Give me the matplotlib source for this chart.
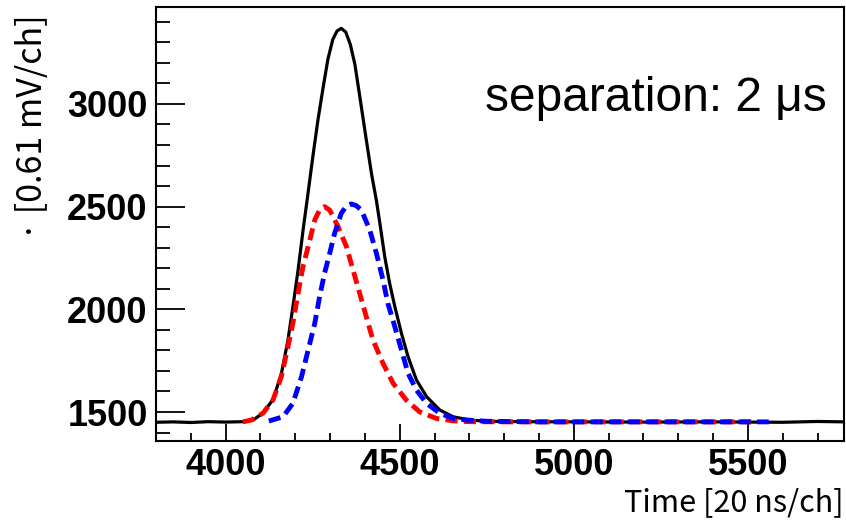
import matplotlib
matplotlib.use('Agg')
import matplotlib.pyplot as plt
from matplotlib.ticker import MultipleLocator

# --- data (time in ch, amplitude in ch) ---
red_t = [4049, 4074, 4107, 4136, 4160, 4179, 4193, 4208, 4222, 4237, 4256, 4270,
         4284, 4299, 4323, 4347, 4366, 4385, 4404, 4423, 4452, 4481, 4519, 4557,
         4605, 4653, 4700, 4800, 5000, 5200, 5400, 5510]
red_v = [1452, 1461, 1494, 1558, 1672, 1818, 1932, 2078, 2207, 2305, 2435, 2485,
         2500, 2483, 2402, 2305, 2191, 2078, 1964, 1851, 1737, 1640, 1558, 1501,
         1469, 1457, 1453, 1452, 1452, 1452, 1452, 1452]

blue_t = [4124, 4165, 4193, 4218, 4237, 4256, 4270, 4284, 4299, 4313, 4332, 4346,
          4361, 4375, 4390, 4414, 4433, 4452, 4466, 4486, 4505, 4524, 4548, 4577,
          4615, 4653, 4692, 4750, 4900, 5100, 5300, 5560]
blue_v = [1456, 1477, 1542, 1672, 1802, 1932, 2062, 2175, 2273, 2370, 2467, 2502,
          2513, 2505, 2483, 2386, 2273, 2143, 2029, 1915, 1802, 1688, 1607, 1542,
          1494, 1469, 1461, 1455, 1452, 1452, 1452, 1452]

black_t = [3800, 3850, 3900, 3950, 4000, 4050, 4080, 4107, 4136, 4160, 4179, 4193,
           4208, 4222, 4237, 4251, 4265, 4280, 4294, 4308, 4320, 4332, 4345, 4358,
           4371, 4385, 4404, 4419, 4433, 4443, 4457, 4471, 4486, 4505, 4524, 4548,
           4577, 4615, 4653, 4701, 4750, 4850, 5000, 5200, 5400, 5600, 5700, 5780]
black_v = [1450, 1452, 1449, 1453, 1451, 1453, 1462, 1495, 1560, 1685, 1850, 2010,
           2190, 2380, 2570, 2750, 2920, 3080, 3220, 3315, 3355, 3368, 3350, 3290,
           3195, 3040, 2825, 2660, 2530, 2419, 2256, 2127, 2013, 1883, 1769, 1656,
           1575, 1510, 1477, 1461, 1455, 1453, 1452, 1451, 1452, 1450, 1454, 1452]

x_major = [4000, 4500, 5000, 5500]
y_major = [1500, 2000, 2500, 3000]

fig = plt.figure(figsize=(8.46, 5.21), dpi=100, facecolor='white')
ax = fig.add_axes([0.1844, 0.1536, 0.8132, 0.833])

ax.plot(black_t, black_v, color='black', lw=2.3, zorder=2)
ax.plot(red_t, red_v, color='#ff0000', lw=3.5, dashes=(2.5, 1.3), zorder=3)
ax.plot(blue_t, blue_v, color='#0000ff', lw=3.5, dashes=(2.5, 1.3), zorder=4)

ax.set_xlim(3800, 5776)
ax.set_ylim(1359, 3472)

tick_font = dict(family=['Liberation Sans', 'DejaVu Sans'], weight='bold', size=26)
ax.set_xticks(x_major)
ax.set_yticks(y_major)
ax.set_xticklabels([str(v) for v in x_major], fontdict=tick_font)
ax.set_yticklabels([str(v) for v in y_major], fontdict=tick_font)
ax.xaxis.set_minor_locator(MultipleLocator(100))
ax.yaxis.set_minor_locator(MultipleLocator(100))
ax.tick_params(axis='x', which='major', direction='in', length=12, width=1.3, pad=5)
ax.tick_params(axis='x', which='minor', direction='in', length=6, width=1.3)
ax.tick_params(axis='y', which='major', direction='in', length=21, width=1.3, pad=6)
ax.tick_params(axis='y', which='minor', direction='in', length=10, width=1.3)
for s in ax.spines.values():
    s.set_linewidth(1.5)

fig.text(0.9976, 0.018, 'Time [20 ns/ch]', ha='right', va='baseline',
         family=['Noto Sans CJK JP', 'DejaVu Sans'], size=22)
fig.text(0.038, 0.972, '· [0.61 mV/ch]', rotation=90, ha='center', va='top',
         family=['Noto Sans CJK JP', 'DejaVu Sans'], size=24.5)

ax.text(0.975, 0.79, 'separation: 2 μs', transform=ax.transAxes, ha='right',
        va='center', family=['Liberation Sans', 'DejaVu Sans'], size=34.5)

fig.savefig('out.png', dpi=100)
